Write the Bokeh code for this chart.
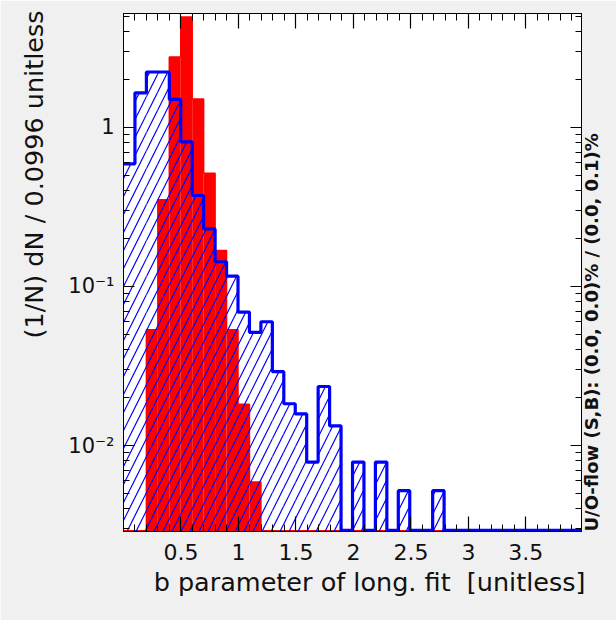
import math
import numpy as np
from bokeh.plotting import figure
from bokeh.models import Range1d, FixedTicker, LinearAxis, LogAxis, Title
from bokeh.embed import file_html
from bokeh.resources import INLINE

# ---------------- data ----------------
bin_width = 0.0996
n_bins = 40
x_start = 0.0
signal = [0, 0, 0.0535, 0.351, 2.77, 4.95, 1.51, 0.515, 0.168, 0.0535, 0.0182, 0.0059,
          0, 0, 0, 0, 0, 0, 0, 0, 0, 0, 0, 0, 0, 0, 0, 0, 0, 0,
          0, 0, 0, 0, 0, 0, 0, 0, 0, 0]
background = [0.59, 1.65, 2.23, 2.23, 1.50, 0.81, 0.373, 0.23, 0.143, 0.116,
              0.069, 0.0514, 0.060, 0.0291, 0.0183, 0.0158, 0.00787, 0.0235, 0.0133, 0,
              0.00787, 0, 0.00787, 0, 0.0052, 0, 0, 0.0052, 0, 0,
              0, 0, 0, 0, 0, 0, 0, 0, 0, 0]
x_ticks = [0.5, 1.0, 1.5, 2.0, 2.5, 3.0, 3.5]
x_tick_labels = ["0.5", "1", "1.5", "2", "2.5", "3", "3.5"]
y_ticks = [0.01, 0.1, 1.0]
y_tick_labels = ["10\u207b\u00b2", "10\u207b\u00b9", "1"]
x_title = "b parameter of long. fit \u00a0[unitless]"
y_title = "(1/N) dN / 0.0996 unitless"
uoflow_text = "U/O-flow (S,B): (0.0, 0.0)% / (0.0, 0.1)%"

# ---------------- layout ----------------
W, H = 616, 620
ML, MR, MT, MB = 122, 35, 13, 89
x_lo, x_hi = x_start, x_start + n_bins * bin_width
y_lo, y_hi = 0.00288, 5.2
FONT = "DejaVu Sans"
TXT = "#111111"

edges = x_start + bin_width * np.arange(n_bins + 1)

p = figure(width=W, height=H, x_range=Range1d(x_lo, x_hi), y_range=Range1d(y_lo, y_hi),
           y_axis_type="log", output_backend="svg", toolbar_location=None,
           min_border_left=ML, min_border_right=MR, min_border_top=MT, min_border_bottom=MB,
           background_fill_color="white", border_fill_color="#f0f0f0")
p.grid.visible = False
p.outline_line_color = "black"
p.outline_line_width = 1

# signal (red, solid)
sig = np.array(signal)
m = sig > 0
p.quad(left=edges[:-1][m], right=edges[1:][m], top=sig[m], bottom=y_lo * 0.5,
       fill_color="#ff0000", line_color=None)
sx = np.concatenate([np.repeat(edges, 2)[1:-1], [edges[-1]]])
sy = np.concatenate([np.repeat(np.maximum(sig, y_lo * 1.01), 2), [y_lo]])
p.line(sx, sy, line_color="#ff0000", line_width=1.5)

# background (blue, hatched)
bkg = np.array(background)
mb = bkg > 0
p.quad(left=edges[:-1][mb], right=edges[1:][mb], top=bkg[mb], bottom=y_lo * 0.5,
       fill_color=None, line_color=None, hatch_pattern="/", hatch_color="#0000ff",
       hatch_scale=18, hatch_weight=1.2)
by = np.concatenate([np.repeat(np.maximum(bkg, y_lo * 1.015), 2), [y_lo]])
p.line(sx, by, line_color="#0000ff", line_width=3.2)

# ---------------- axes ----------------
x_minor = [round(0.1 * k, 1) for k in range(1, 40)]
y_minor = [k * 10.0 ** e for e in (-3, -2, -1, 0) for k in range(2, 10)]
xt = FixedTicker(ticks=x_ticks, minor_ticks=x_minor)
yt = FixedTicker(ticks=y_ticks, minor_ticks=y_minor)

def common(ax, ticker, tin, tmin, labels, label_map, fsize):
    ax.ticker = ticker
    ax.major_tick_in = tin
    ax.major_tick_out = 0
    ax.minor_tick_in = tmin
    ax.minor_tick_out = 0
    ax.axis_line_color = "black"
    ax.major_tick_line_color = "black"
    ax.minor_tick_line_color = "black"
    ax.major_tick_line_width = 1.2
    ax.major_label_text_font = FONT
    ax.major_label_text_font_size = fsize
    ax.major_label_text_color = TXT
    if labels:
        ax.major_label_overrides = label_map
    else:
        ax.major_label_overrides = {t: "" for t in label_map}
    ax.axis_label_text_font = FONT
    ax.axis_label_text_color = TXT
    ax.axis_label_text_font_style = "normal"

xa = p.xaxis[0]
common(xa, xt, 15, 7, True, dict(zip(x_ticks, x_tick_labels)), "22px")
xa.major_label_standoff = 12

ya = p.yaxis[0]
common(ya, yt, 11, 6, True, dict(zip(y_ticks, y_tick_labels)), "21px")
ya.major_label_standoff = 9

top_ax = LinearAxis()
common(top_ax, xt, 15, 7, False, dict(zip(x_ticks, x_tick_labels)), "22px")
top_ax.major_label_standoff = 0
p.add_layout(top_ax, "above")

right_ax = LogAxis()
common(right_ax, yt, 11, 6, False, dict(zip(y_ticks, y_tick_labels)), "21px")
right_ax.major_label_standoff = 0
right_ax.axis_label = uoflow_text
right_ax.axis_label_text_font_size = "18px"
right_ax.axis_label_text_font_style = "bold"
right_ax.axis_label_standoff = 10
right_ax.axis_label_align = "start"
right_ax.axis_label_orientation = math.pi / 2
p.add_layout(right_ax, "right")

# invisible spacer below the x axis (no ticks, no line) to push the title down
spacer = LinearAxis(ticker=FixedTicker(ticks=[]), major_tick_in=0, major_tick_out=20,
                    minor_tick_in=0, minor_tick_out=0, axis_line_color=None,
                    major_tick_line_color=None, minor_tick_line_color=None,
                    major_label_standoff=0)
p.add_layout(spacer, "below")

# axis titles (right/top aligned as in the reference)
p.add_layout(Title(text=x_title, align="right", text_font=FONT, text_font_size="25.5px",
                   text_font_style="normal", text_color=TXT, standoff=4, offset=-4), "below")
p.add_layout(Title(text=y_title, align="right", text_font=FONT, text_font_size="25.5px",
                   text_font_style="normal", text_color=TXT, standoff=33, offset=-3), "left")

open("out.html", "w").write(file_html(p, INLINE))
